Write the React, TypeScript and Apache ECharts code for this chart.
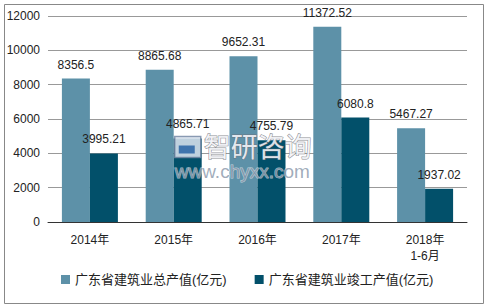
import React, { useEffect, useRef } from "react";
import * as echarts from "echarts";

const categories = ["2014年", "2015年", "2016年", "2017年", "2018年\n1-6月"];
const totalOutput = [8356.5, 8865.68, 9652.31, 11372.52, 5467.27];
const completedOutput = [3995.21, 4865.71, 4755.79, 6080.8, 1937.02];
const seriesNames = ["广东省建筑业总产值(亿元)", "广东省建筑业竣工产值(亿元)"];

export default function App() {
  const ref = useRef<HTMLDivElement>(null);
  useEffect(() => {
    const chart = echarts.init(ref.current!, null, { renderer: "svg" });
    const font = "Arial, 'Liberation Sans', 'Noto Sans CJK SC', sans-serif";
    chart.setOption({
      animation: false,
      backgroundColor: "#fff",
      textStyle: { fontFamily: font },
      grid: { left: 48, right: 18, top: 16, bottom: 83 },
      legend: {
        bottom: 14,
        left: 56,
        itemWidth: 9,
        itemHeight: 9,
        itemGap: 28,
        icon: "rect",
        textStyle: { fontSize: 13, color: "#222", fontFamily: font },
        data: seriesNames,
      },
      xAxis: {
        type: "category",
        data: categories,
        axisLine: { lineStyle: { color: "#333", width: 1 } },
        axisTick: { show: false },
        axisLabel: { fontSize: 12, color: "#222", margin: 10, lineHeight: 16 },
      },
      yAxis: {
        type: "value",
        min: 0,
        max: 12000,
        interval: 2000,
        axisLine: { show: false },
        axisTick: { show: false },
        axisLabel: { fontSize: 12, color: "#222", margin: 8, formatter: (v: number) => String(v) },
        splitLine: { lineStyle: { color: "#999", width: 1 } },
      },
      series: [
        {
          name: seriesNames[0],
          type: "bar",
          data: totalOutput,
          barWidth: 28,
          barGap: "0%",
          itemStyle: { color: "#5d91a8" },
          label: { show: true, position: "top", fontSize: 12, color: "#222", distance: 8 },
        },
        {
          name: seriesNames[1],
          type: "bar",
          data: completedOutput,
          barWidth: 28,
          barGap: "0%",
          itemStyle: { color: "#02506a" },
          label: { show: true, position: "top", fontSize: 12, color: "#222", distance: 8 },
        },
      ],
      graphic: [
        {
          type: "rect",
          left: 2,
          top: 2,
          shape: { width: 479, height: 299 },
          style: { fill: "none", stroke: "#888", lineWidth: 1 },
          silent: true,
        },
        {
          type: "group",
          left: 174,
          top: 131,
          z: 100,
          zlevel: 1,
          silent: true,
          children: [
            {
              type: "rect",
              z: 100,
              zlevel: 1,
              shape: { x: 0, y: 1, width: 26, height: 21 },
              style: { fill: "rgba(225,232,242,0.85)", stroke: "rgba(110,130,160,0.8)", lineWidth: 1.5 },
            },
            {
              type: "rect",
              z: 101,
              zlevel: 1,
              shape: { x: 4, y: 10, width: 16, height: 8 },
              style: { fill: "rgba(40,100,165,0.85)" },
            },
            {
              type: "text",
              z: 101,
              zlevel: 1,
              x: 29,
              y: -4,
              style: {
                text: "智研咨询",
                fontSize: 27,
                fill: "rgba(245,246,250,0.9)",
                stroke: "rgba(110,112,120,0.8)",
                lineWidth: 1,
                fontFamily: "'Noto Sans CJK SC', sans-serif",
              },
            },
            {
              type: "text",
              z: 101,
              zlevel: 1,
              x: 0,
              y: 26,
              style: {
                text: "www.chyxx.com",
                fontSize: 19,
                fill: "rgba(130,145,165,0.75)",
                stroke: "rgba(255,255,255,0.6)",
                lineWidth: 1,
                fontFamily: font,
                letterSpacing: 0.5,
              },
            },
          ],
        },
      ],
    });
    return () => chart.dispose();
  }, []);
  return (
    <div
      ref={ref}
      style={{ position: "fixed", left: 0, top: 0, width: 485, height: 305 }}
    />
  );
}
